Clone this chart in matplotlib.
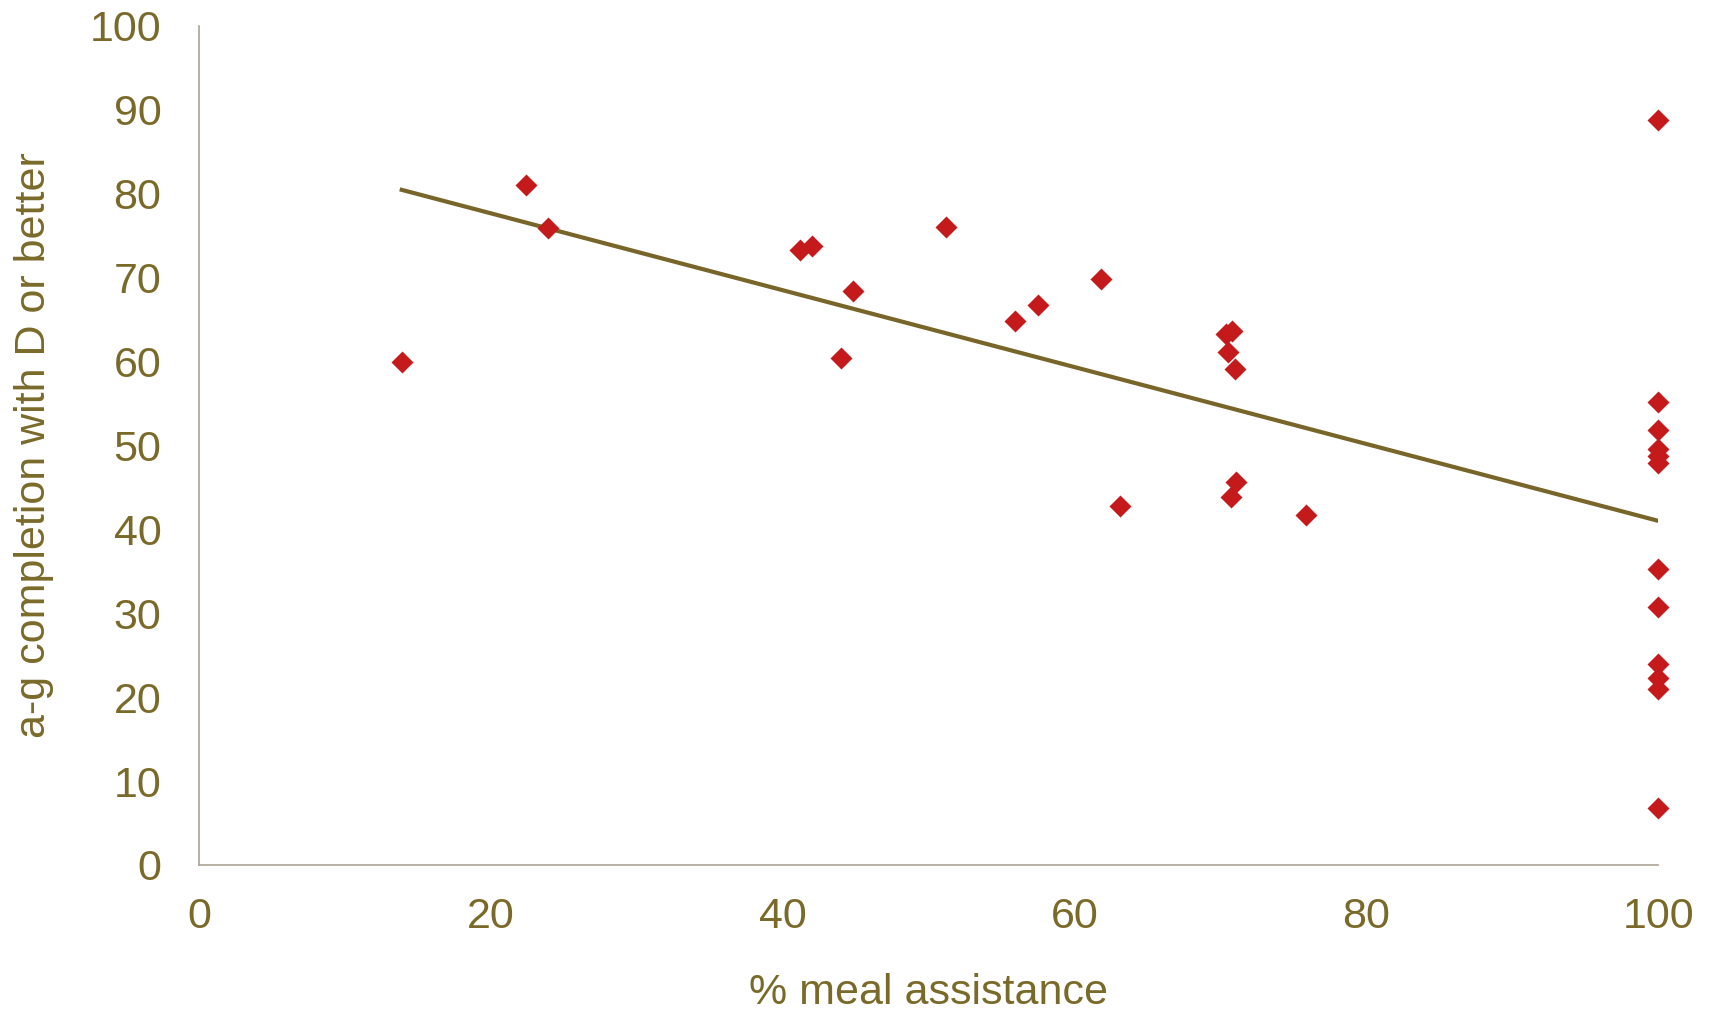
import numpy as np
import matplotlib
matplotlib.use("Agg")
import matplotlib.pyplot as plt

plt.rcParams["font.family"] = ["Liberation Sans", "DejaVu Sans"]

# % meal assistance vs a-g completion (D or better)
meal_pct = [13.9, 22.4, 23.9, 41.2, 42.0, 44.8, 44.0, 51.2, 55.9, 57.5,
            61.8, 63.1, 70.4, 70.8, 70.5, 71.0, 71.1, 70.7, 75.9,
            100, 100, 100, 100, 100, 100, 100, 100, 100, 100, 100, 100]
ag_rate = [60.0, 81.1, 75.9, 73.3, 73.8, 68.4, 60.4, 76.0, 64.8, 66.8,
           69.8, 42.8, 63.3, 63.7, 61.1, 59.1, 45.7, 43.9, 41.7,
           88.8, 55.2, 51.8, 49.6, 48.8, 47.9, 35.3, 30.8, 23.9, 22.3, 21.0, 6.8]

x_ticks = [0, 20, 40, 60, 80, 100]
y_ticks = [0, 10, 20, 30, 40, 50, 60, 70, 80, 90, 100]

text_color = "#7A6A2A"
marker_color = "#C41A1B"
line_color = "#786529"
spine_color = "#A9A295"

fig = plt.figure(figsize=(17.12, 10.10), dpi=100)
ax = fig.add_axes([0.1162, 0.1436, 0.8523, 0.8307])

x = np.array(meal_pct)
y = np.array(ag_rate)

# linear trendline
slope, intercept = np.polyfit(x, y, 1)
xs = np.array([x.min(), x.max()])
ax.plot(xs, slope * xs + intercept, color=line_color, lw=3, zorder=2)

ax.plot(x, y, "D", color=marker_color, ms=11, mec="none", zorder=3, clip_on=False)

ax.set_xlim(0, 100)
ax.set_ylim(0, 100)
ax.set_xticks(x_ticks)
ax.set_yticks(y_ticks)
ax.tick_params(axis="both", length=0, labelsize=31, colors=text_color)
ax.tick_params(axis="x", pad=23)
ax.tick_params(axis="y", pad=27)

for side in ["top", "right"]:
    ax.spines[side].set_visible(False)
for side in ["left", "bottom"]:
    ax.spines[side].set_color(spine_color)
    ax.spines[side].set_linewidth(1.2)

ax.set_xlabel("% meal assistance", fontsize=31, color=text_color, labelpad=26)
ax.set_ylabel("a-g completion with D or better", fontsize=31, color=text_color, labelpad=26)

fig.savefig("out.png", dpi=100)
